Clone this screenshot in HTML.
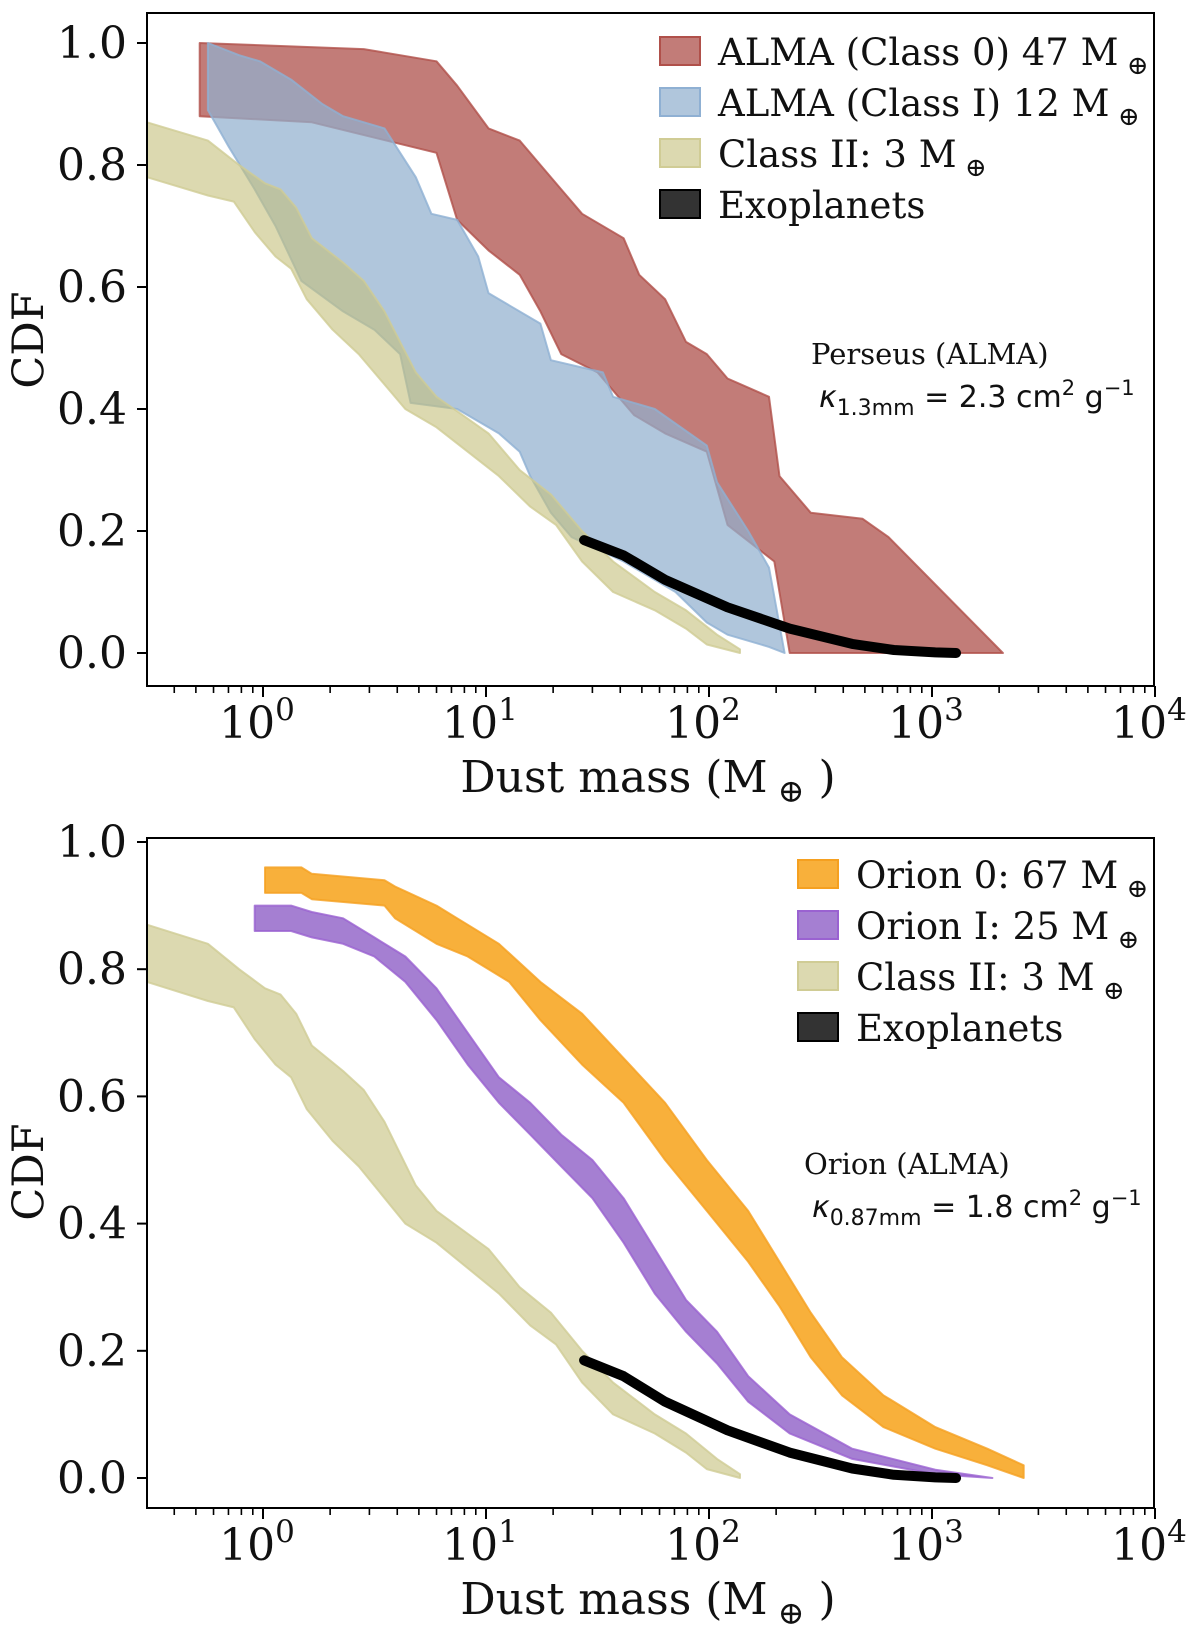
<!DOCTYPE html>
<html><head><meta charset="utf-8"><style>
body{margin:0;background:#fff}
svg{display:block}
text{font-family:"DejaVu Serif","Liberation Serif",serif;fill:#111}
.sans{font-family:"DejaVu Sans","Liberation Sans",sans-serif}
</style></head><body>
<svg id="fig" width="1200" height="1636" viewBox="0 0 1200 1636" xmlns="http://www.w3.org/2000/svg"></svg>
<script>
// ---- data (log10 dust mass, CDF) ----
const class0UpperLogM=[-0.284,0.452,0.778,0.871,1.011,1.151,1.337,1.431,1.617,1.687,1.803,1.897,1.990,2.083,2.269,2.316,2.456,2.689,2.805,3.318];
const class0UpperCdf=[1.0,0.99,0.97,0.93,0.86,0.84,0.76,0.72,0.68,0.62,0.58,0.51,0.49,0.45,0.42,0.29,0.23,0.22,0.19,0.0];
const class0LowerLogM=[-0.284,0.219,0.778,0.871,1.011,1.151,1.244,1.337,1.500,1.664,1.803,1.990,2.083,2.293,2.362];
const class0LowerCdf=[0.88,0.87,0.82,0.71,0.66,0.62,0.56,0.49,0.46,0.39,0.36,0.33,0.21,0.15,0.0];
const class1UpperLogM=[-0.247,-0.107,-0.014,0.126,0.266,0.359,0.545,0.685,0.755,0.871,0.965,1.011,1.104,1.244,1.291,1.524,1.570,1.757,1.990,2.036,2.176,2.269,2.339];
const class1UpperCdf=[1.0,0.98,0.97,0.94,0.90,0.88,0.86,0.78,0.72,0.71,0.65,0.59,0.57,0.54,0.48,0.46,0.42,0.40,0.34,0.28,0.20,0.14,0.0];
const class1LowerLogM=[-0.247,-0.154,-0.037,0.056,0.172,0.359,0.499,0.615,0.662,0.871,1.058,1.151,1.198,1.291,1.384,1.617,1.850,1.990,2.083,2.269,2.339];
const class1LowerCdf=[0.89,0.83,0.76,0.70,0.61,0.56,0.53,0.49,0.41,0.40,0.36,0.33,0.29,0.23,0.19,0.15,0.10,0.05,0.03,0.01,0.0];
const class2UpperLogM=[-0.52,-0.247,-0.107,0.009,0.079,0.149,0.219,0.359,0.452,0.545,0.615,0.685,0.778,0.895,1.011,1.151,1.291,1.431,1.570,1.757,1.897,2.036,2.139];
const class2UpperCdf=[0.87,0.84,0.80,0.77,0.76,0.73,0.68,0.64,0.61,0.56,0.51,0.46,0.42,0.39,0.36,0.30,0.26,0.20,0.15,0.10,0.07,0.03,0.006];
const class2LowerLogM=[-0.52,-0.247,-0.131,-0.037,0.056,0.126,0.196,0.312,0.429,0.522,0.638,0.778,0.918,1.058,1.198,1.314,1.431,1.570,1.757,1.897,1.990,2.139];
const class2LowerCdf=[0.78,0.75,0.74,0.69,0.65,0.63,0.58,0.53,0.49,0.45,0.40,0.37,0.33,0.29,0.24,0.21,0.15,0.10,0.07,0.04,0.014,0.0];
const exoLogM=[1.44,1.617,1.803,2.083,2.362,2.642,2.829,3.015,3.108];
const exoCdf=[0.185,0.16,0.12,0.075,0.04,0.015,0.005,0.001,0.0];
const orion0UpperLogM=[0.009,0.172,0.219,0.545,0.592,0.778,0.871,1.058,1.244,1.431,1.617,1.803,1.990,2.176,2.316,2.456,2.596,2.782,3.015,3.248,3.411];
const orion0UpperCdf=[0.96,0.96,0.95,0.94,0.93,0.90,0.88,0.84,0.78,0.73,0.66,0.59,0.50,0.42,0.34,0.26,0.19,0.13,0.08,0.046,0.02];
const orion0LowerLogM=[0.009,0.172,0.219,0.545,0.592,0.778,0.918,1.104,1.244,1.431,1.617,1.803,1.990,2.176,2.316,2.456,2.596,2.782,3.015,3.248,3.411];
const orion0LowerCdf=[0.92,0.92,0.91,0.90,0.88,0.84,0.82,0.78,0.72,0.65,0.59,0.50,0.42,0.34,0.27,0.19,0.13,0.08,0.046,0.02,0.0];
const orion1UpperLogM=[-0.037,0.126,0.219,0.359,0.499,0.638,0.778,0.918,1.058,1.198,1.337,1.477,1.617,1.757,1.897,2.036,2.176,2.362,2.642,3.015,3.271];
const orion1UpperCdf=[0.90,0.90,0.89,0.88,0.85,0.82,0.77,0.70,0.63,0.59,0.54,0.50,0.44,0.36,0.28,0.23,0.16,0.10,0.046,0.013,0.0];
const orion1LowerLogM=[-0.037,0.126,0.219,0.359,0.499,0.638,0.778,0.918,1.058,1.198,1.337,1.477,1.617,1.757,1.897,2.036,2.176,2.362,2.642,3.015,3.271];
const orion1LowerCdf=[0.86,0.86,0.85,0.84,0.82,0.78,0.72,0.65,0.59,0.54,0.49,0.44,0.37,0.29,0.23,0.18,0.12,0.07,0.03,0.006,0.0];
const yTicks=[0,0.2,0.4,0.6,0.8,1.0];
const yTickLabels=["0.0","0.2","0.4","0.6","0.8","1.0"];
const xDecades=[0,1,2,3,4];

const NS="http://www.w3.org/2000/svg";
const svg=document.getElementById('fig');
function mk(tag,attrs,parent){const e=document.createElementNS(NS,tag);for(const k in attrs)e.setAttribute(k,attrs[k]);(parent||svg).appendChild(e);return e;}

function panel(p){
  const g=mk('g',{});
  
  
  const X=l=>263+l*223;
  const Y=v=>p.y0-v*p.sy;
  function band(name,uL,uC,lL,lC,fill,stroke,op){
    let pts=uL.map((l,i)=>X(l).toFixed(1)+','+Y(uC[i]).toFixed(1));
    for(let i=lL.length-1;i>=0;i--)pts.push(X(lL[i]).toFixed(1)+','+Y(lC[i]).toFixed(1));
    const e=mk('polygon',{points:pts.join(' '),fill:fill,'fill-opacity':op,stroke:stroke,'stroke-width':2,'stroke-opacity':0.8,'stroke-linejoin':'round'},g);
    
    
  }
  p.bands.forEach(b=>band(...b));
  const exo=mk('polyline',{points:exoLogM.map((l,i)=>X(l).toFixed(1)+','+Y(exoCdf[i]).toFixed(1)).join(' '),fill:'none',stroke:'#000','stroke-width':10,'stroke-linecap':'round','stroke-linejoin':'round'},g);
  
  
  const fr=mk('rect',{x:147,y:p.top,width:1007,height:p.bot-p.top,fill:'none',stroke:'#000','stroke-width':2},g);
  
  
  yTicks.forEach((v,i)=>{
    mk('line',{x1:137,x2:147,y1:Y(v),y2:Y(v),stroke:'#000','stroke-width':2},g);
    const t=mk('text',{x:127,y:Y(v)+15,'font-size':44,'text-anchor':'end'},g);
    t.textContent=yTickLabels[i];
    
    
  });
  xDecades.forEach(d=>{
    mk('line',{x1:X(d),x2:X(d),y1:p.bot,y2:p.bot+11,stroke:'#000','stroke-width':2},g);
    const t=mk('text',{x:X(d)-6,y:p.bot+52,'font-size':44,'text-anchor':'middle'},g);
    
    
    t.textContent='10';
    const s=mk('tspan',{dy:-18,'font-size':31},t);s.textContent=String(d);
  });
  for(let d=-1;d<4;d++)for(let m=2;m<=9;m++){
    const l=d+Math.log10(m);if(l<-0.52)continue;
    mk('line',{x1:X(l),x2:X(l),y1:p.bot,y2:p.bot+7,stroke:'#000','stroke-width':1.6},g);
  }
  const xl=mk('text',{x:648,y:p.bot+106,'font-size':44,'text-anchor':'middle'},g);
  
  
  xl.innerHTML='Dust mass (M<tspan dy="10" font-size="32"> ⊕</tspan><tspan dy="-10"> )</tspan>';
  const yl=mk('text',{x:0,y:0,'font-size':43,'text-anchor':'middle',transform:`translate(43,${p.ymid}) rotate(-90)`},g);
  
  
  yl.textContent='CDF';
  p.legend.forEach((L,i)=>{
    const cy=p.legY+i*51;
    const r=mk('rect',{x:p.legX,y:cy-14,width:40,height:28,fill:L[1],'fill-opacity':L[3],stroke:L[2],'stroke-width':2},g);
    
    
    const t=mk('text',{x:p.legX+58,y:cy+14,'font-size':37},g);
    
    
    t.innerHTML=L[0];
  });
  const a=mk('text',{x:p.annX,y:p.annY,'font-size':29},g);
  
  
  a.textContent=p.ann;
  const k=mk('text',{x:p.annX+8,y:p.annY+43,'font-size':30,'class':'sans'},g);
  
  
  k.innerHTML=`<tspan font-style="italic">κ</tspan><tspan dy="8" font-size="22">${p.kSub}</tspan><tspan dy="-8"> = ${p.kVal} cm</tspan><tspan dy="-12" font-size="21">2</tspan><tspan dy="12"> g</tspan><tspan dy="-12" font-size="21">−1</tspan>`;
}
const M='<tspan dy="9" font-size="26"> ⊕</tspan>';
panel({name:'perseus-panel',top:13,bot:686,y0:653,sy:610,ymid:340,
  bands:[['class0-band',class0UpperLogM,class0UpperCdf,class0LowerLogM,class0LowerCdf,'#a8453e','#b0504a',0.7],
         ['class1-band',class1UpperLogM,class1UpperCdf,class1LowerLogM,class1LowerCdf,'#92b0cf','#8fb0d3',0.72],
         ['class2-band',class2UpperLogM,class2UpperCdf,class2LowerLogM,class2LowerCdf,'#c5c07b','#d0cc95',0.6]],
  legX:660,legY:51,
  legend:[['ALMA (Class 0) 47 M'+M,'#a8453e','#b0504a',0.7],['ALMA (Class I) 12 M'+M,'#92b0cf','#8fb0d3',0.72],['Class II: 3 M'+M,'#c5c07b','#d0cc95',0.6],['Exoplanets','#333','#000',1]],
  annX:811,annY:364,ann:'Perseus (ALMA)',kSub:'1.3mm',kVal:'2.3'});
panel({name:'orion-panel',top:838,bot:1508,y0:1478,sy:636,ymid:1172,
  bands:[['class2-band',class2UpperLogM,class2UpperCdf,class2LowerLogM,class2LowerCdf,'#c5c07b','#d0cc95',0.6],
         ['orion0-band',orion0UpperLogM,orion0UpperCdf,orion0LowerLogM,orion0LowerCdf,'#f8ac30','#f5a020',0.95],
         ['orion1-band',orion1UpperLogM,orion1UpperCdf,orion1LowerLogM,orion1LowerCdf,'#a078d0','#9a62d1',0.95]],
  legX:798,legY:874,
  legend:[['Orion 0: 67 M'+M,'#f8ac30','#f5a020',0.95],['Orion I: 25 M'+M,'#a078d0','#9a62d1',0.95],['Class II: 3 M'+M,'#c5c07b','#d0cc95',0.6],['Exoplanets','#333','#000',1]],
  annX:804,annY:1174,ann:'Orion (ALMA)',kSub:'0.87mm',kVal:'1.8'});
</script>
</body></html>
